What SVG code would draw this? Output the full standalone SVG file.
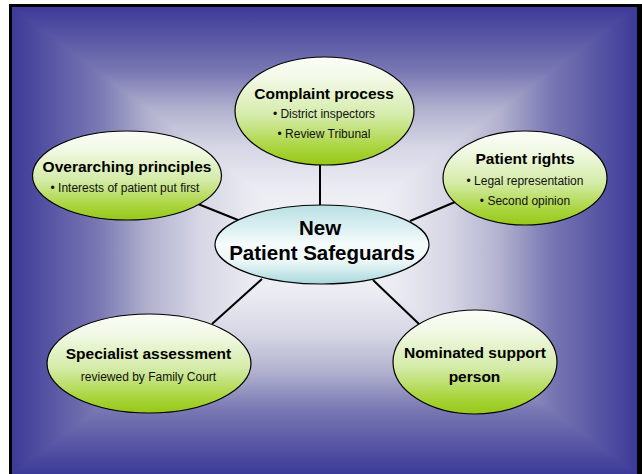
<svg xmlns="http://www.w3.org/2000/svg" width="642" height="474" viewBox="0 0 642 474">
<defs>
<linearGradient id="bgT" gradientUnits="userSpaceOnUse" x1="0" y1="7" x2="0" y2="240.5">
<stop offset="0" stop-color="#3c3a98"/><stop offset="0.28" stop-color="#7a79b4"/><stop offset="0.44" stop-color="#b2b2cf"/><stop offset="0.6" stop-color="#d6d6e5"/><stop offset="0.76" stop-color="#eaeaf2"/><stop offset="1" stop-color="#f8f8fb"/>
</linearGradient>
<linearGradient id="bgB" gradientUnits="userSpaceOnUse" x1="0" y1="474" x2="0" y2="240.5">
<stop offset="0" stop-color="#3c3a98"/><stop offset="0.28" stop-color="#7a79b4"/><stop offset="0.44" stop-color="#b2b2cf"/><stop offset="0.6" stop-color="#d6d6e5"/><stop offset="0.76" stop-color="#eaeaf2"/><stop offset="1" stop-color="#f8f8fb"/>
</linearGradient>
<linearGradient id="bgL" gradientUnits="userSpaceOnUse" x1="12" y1="0" x2="324.5" y2="0">
<stop offset="0" stop-color="#3c3a98"/><stop offset="0.28" stop-color="#7a79b4"/><stop offset="0.44" stop-color="#b2b2cf"/><stop offset="0.6" stop-color="#d6d6e5"/><stop offset="0.76" stop-color="#eaeaf2"/><stop offset="1" stop-color="#f8f8fb"/>
</linearGradient>
<linearGradient id="bgR" gradientUnits="userSpaceOnUse" x1="637" y1="0" x2="324.5" y2="0">
<stop offset="0" stop-color="#3c3a98"/><stop offset="0.28" stop-color="#7a79b4"/><stop offset="0.44" stop-color="#b2b2cf"/><stop offset="0.6" stop-color="#d6d6e5"/><stop offset="0.76" stop-color="#eaeaf2"/><stop offset="1" stop-color="#f8f8fb"/>
</linearGradient>
<linearGradient id="green" x1="0" y1="0" x2="0" y2="1">
<stop offset="0" stop-color="#fbfdf7"/><stop offset="0.2" stop-color="#f2f9e6"/><stop offset="0.55" stop-color="#d4eba8"/><stop offset="0.85" stop-color="#a8d43a"/><stop offset="1" stop-color="#96c818"/>
</linearGradient>
<linearGradient id="cyan" x1="0" y1="0" x2="0" y2="1">
<stop offset="0" stop-color="#b8e0e4"/><stop offset="0.5" stop-color="#f6fbfb"/><stop offset="0.7" stop-color="#eef8f8"/><stop offset="1" stop-color="#a8d8dc"/>
</linearGradient>
</defs>
<style>
.bg{shape-rendering:crispEdges}
.node{stroke:#000;stroke-width:1.2}
.g{fill:url(#green)}
.c{fill:url(#cyan)}
.h{font-family:"Liberation Sans",Arial,sans-serif;font-weight:bold;font-size:15.5px;fill:#000;text-anchor:middle}
.b{font-family:"Liberation Sans",Arial,sans-serif;font-size:12px;fill:#111;text-anchor:middle}
.m{font-family:"Liberation Sans",Arial,sans-serif;font-weight:bold;font-size:20.5px;fill:#000;text-anchor:middle}
#connectors line{stroke:#000;stroke-width:2}
</style>
<rect x="9" y="4" width="633" height="470" fill="#000"/>
<rect class="bg" x="12" y="7" width="625" height="467" fill="#d6d6e5"/>
<polygon class="bg" points="12,7 637,7 324.5,240.5" fill="url(#bgT)"/>
<polygon class="bg" points="12,474 637,474 324.5,240.5" fill="url(#bgB)"/>
<polygon class="bg" points="12,7 12,474 324.5,240.5" fill="url(#bgL)"/>
<polygon class="bg" points="637,7 637,474 324.5,240.5" fill="url(#bgR)"/>
<g id="connectors">
<line x1="320" y1="165" x2="320" y2="206"/>
<line x1="198" y1="204" x2="238" y2="220"/>
<line x1="455" y1="202" x2="410" y2="221"/>
<line x1="262" y1="279" x2="212" y2="324"/>
<line x1="373" y1="280" x2="419" y2="324"/>
</g>
<g id="complaint">
<ellipse class="node g" cx="324.5" cy="111" rx="89.5" ry="54"/>
<text class="h" x="324" y="98.5">Complaint process</text>
<text class="b" x="324" y="118">• District inspectors</text>
<text class="b" x="324" y="138">• Review Tribunal</text>
</g>
<g id="overarching">
<ellipse class="node g" cx="127" cy="175.5" rx="94.5" ry="44.5"/>
<text class="h" x="127" y="172">Overarching principles</text>
<text class="b" x="125" y="192">• Interests of patient put first</text>
</g>
<g id="rights">
<ellipse class="node g" cx="525" cy="178" rx="82" ry="47"/>
<text class="h" x="525" y="164">Patient rights</text>
<text class="b" x="525" y="185">• Legal representation</text>
<text class="b" x="525" y="205">• Second opinion</text>
</g>
<g id="specialist">
<ellipse class="node g" cx="149" cy="363.5" rx="102" ry="49.5"/>
<text class="h" x="148.5" y="359">Specialist assessment</text>
<text class="b" x="148.5" y="381">reviewed by Family Court</text>
</g>
<g id="nominated">
<ellipse class="node g" cx="475" cy="362" rx="82" ry="52"/>
<text class="h" x="475" y="358">Nominated support</text>
<text class="h" x="474.5" y="382">person</text>
</g>
<g id="center">
<ellipse class="node c" cx="322" cy="244.5" rx="107" ry="39.5"/>
<text class="m" x="320" y="235">New</text>
<text class="m" x="322" y="260">Patient Safeguards</text>
</g>
</svg>
